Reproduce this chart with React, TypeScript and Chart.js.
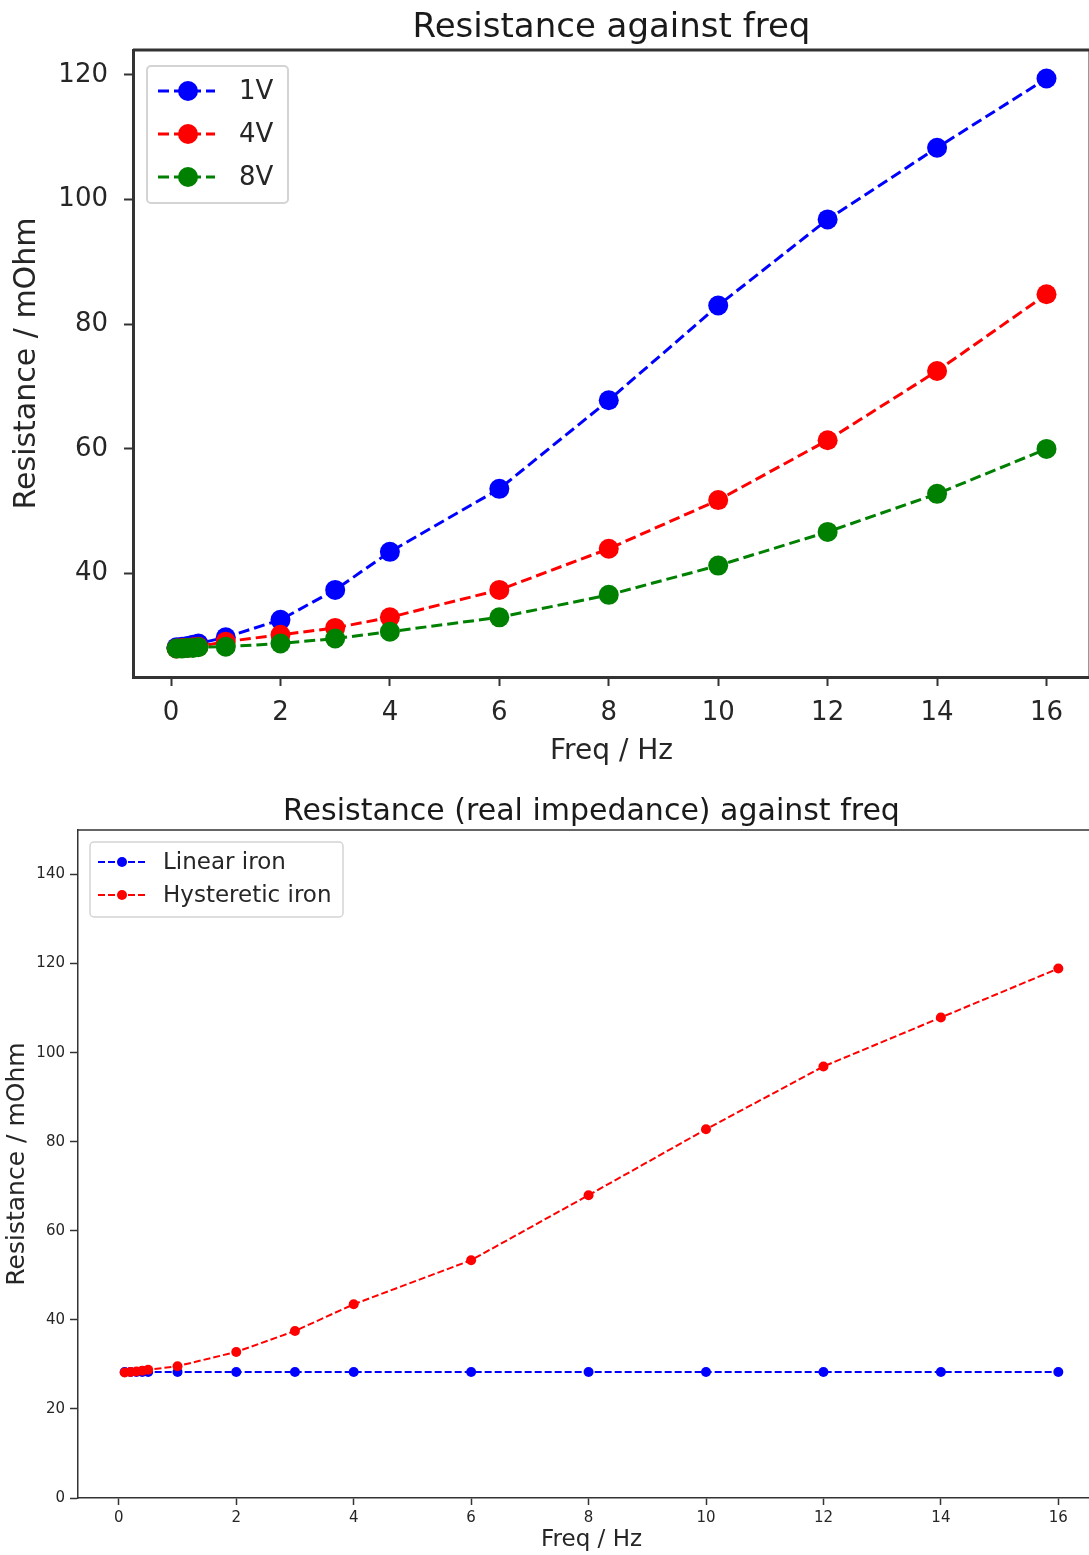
import { useEffect, useRef } from "react";
import { Chart, registerables } from "chart.js";

Chart.register(...registerables);

// Measurement frequencies (Hz)
const freqs = [0.1, 0.2, 0.3, 0.4, 0.5, 1, 2, 3, 4, 6, 8, 10, 12, 14, 16];

// Resistance (mOhm) at three drive voltages
const r1V = [28.2, 28.3, 28.4, 28.6, 28.8, 29.8, 32.6, 37.4, 43.5, 53.6, 67.8, 83.0, 96.8, 108.3, 119.4];
const r4V = [28.0, 28.1, 28.1, 28.2, 28.3, 29.1, 30.2, 31.3, 33.0, 37.4, 44.0, 51.8, 61.4, 72.5, 84.8];
const r8V = [28.0, 28.0, 28.1, 28.1, 28.2, 28.3, 28.8, 29.6, 30.7, 33.0, 36.6, 41.3, 46.7, 52.8, 60.0];

// Real part of impedance (mOhm) for the two iron models
const linearIron = [28.3, 28.3, 28.3, 28.3, 28.3, 28.3, 28.3, 28.3, 28.3, 28.3, 28.3, 28.3, 28.3, 28.3, 28.3];
const hystereticIron = [28.2, 28.3, 28.4, 28.6, 28.8, 29.6, 32.8, 37.5, 43.5, 53.4, 68.0, 82.8, 96.9, 107.9, 118.9];

// Tick labels
const xTicks = [0, 2, 4, 6, 8, 10, 12, 14, 16];
const topYTicks = [40, 60, 80, 100, 120];
const bottomYTicks = [0, 20, 40, 60, 80, 100, 120, 140];

const FONT = "'DejaVu Sans', 'Liberation Sans', sans-serif";
const TEXT = "#262626";
const SPINE = "#333333";

const toPoints = (ys: number[]) => freqs.map((x, i) => ({ x, y: ys[i] }));

// Draws title, top/right spines and a matplotlib-like legend box.
const framePlugin = {
  id: "frame",
  afterDraw(chart: any, _args: any, opts: any) {
    const { ctx, chartArea: a } = chart;
    ctx.save();

    // Title
    ctx.font = `${opts.titleSize}px ${FONT}`;
    ctx.fillStyle = "#1a1a1a";
    ctx.textAlign = "center";
    ctx.textBaseline = "alphabetic";
    ctx.fillText(opts.title, (a.left + a.right) / 2, opts.titleBaseline);

    // Top and right spines
    ctx.strokeStyle = SPINE;
    ctx.lineWidth = opts.spineWidth;
    ctx.setLineDash([]);
    ctx.beginPath();
    ctx.moveTo(a.left, a.top);
    ctx.lineTo(a.right, a.top);
    ctx.lineTo(a.right, a.bottom);
    ctx.stroke();

    // Legend
    const lg = opts.legend;
    const x0 = a.left + lg.dx;
    const y0 = a.top + lg.dy;
    ctx.beginPath();
    ctx.roundRect(x0, y0, lg.w, lg.h, lg.radius);
    ctx.fillStyle = "rgba(255,255,255,0.85)";
    ctx.fill();
    ctx.strokeStyle = "#d4d4d4";
    ctx.lineWidth = lg.borderWidth;
    ctx.stroke();

    chart.data.datasets.forEach((ds: any, i: number) => {
      const cy = y0 + lg.firstY + i * lg.rowGap;
      ctx.strokeStyle = ds.borderColor;
      ctx.lineWidth = ds.borderWidth;
      ctx.setLineDash(ds.borderDash);
      ctx.beginPath();
      ctx.moveTo(x0 + lg.lineX0, cy);
      ctx.lineTo(x0 + lg.lineX1, cy);
      ctx.stroke();
      ctx.setLineDash([]);
      ctx.beginPath();
      ctx.arc(x0 + lg.markerX, cy, ds.pointRadius, 0, Math.PI * 2);
      ctx.fillStyle = ds.pointBackgroundColor;
      ctx.fill();
      ctx.font = `${lg.fontSize}px ${FONT}`;
      ctx.fillStyle = TEXT;
      ctx.textAlign = "left";
      ctx.textBaseline = "middle";
      ctx.fillText(ds.label, x0 + lg.textX, cy + 1);
    });
    ctx.restore();
  },
};

function series(label: string, ys: number[], color: string, big: boolean, order: number) {
  return {
    label,
    data: toPoints(ys),
    borderColor: color,
    backgroundColor: color,
    pointBackgroundColor: color,
    pointBorderColor: color,
    pointBorderWidth: 0,
    pointRadius: big ? 10 : 5,
    pointHoverRadius: big ? 10 : 5,
    borderWidth: big ? 3 : 2,
    borderDash: big ? [11, 5] : [7, 3],
    showLine: true,
    fill: false,
    tension: 0,
    order,
  };
}

function axisX(cfg: any) {
  return {
    type: "linear",
    min: -0.695,
    max: 16.795,
    afterBuildTicks: (s: any) => {
      s.ticks = xTicks.map((v) => ({ value: v }));
    },
    afterFit: (s: any) => {
      s.height = cfg.height;
    },
    grid: {
      display: true,
      drawOnChartArea: false,
      drawTicks: true,
      tickLength: cfg.tickLength,
      tickWidth: cfg.tickWidth,
      tickColor: SPINE,
    },
    border: { display: true, color: SPINE, width: cfg.spine },
    ticks: {
      font: { family: FONT, size: cfg.tickSize },
      color: TEXT,
      padding: cfg.tickPad,
      maxRotation: 0,
      autoSkip: false,
      callback: (v: any) => String(v),
    },
    title: {
      display: true,
      text: "Freq / Hz",
      font: { family: FONT, size: cfg.titleSize },
      color: TEXT,
      padding: { top: 0, bottom: cfg.titlePad },
    },
  };
}

function axisY(cfg: any) {
  return {
    type: "linear",
    min: cfg.min,
    max: cfg.max,
    afterBuildTicks: (s: any) => {
      s.ticks = cfg.ticks.map((v: number) => ({ value: v }));
    },
    afterFit: (s: any) => {
      s.width = cfg.width;
    },
    grid: {
      display: true,
      drawOnChartArea: false,
      drawTicks: true,
      tickLength: cfg.tickLength,
      tickWidth: cfg.tickWidth,
      tickColor: SPINE,
    },
    border: { display: true, color: SPINE, width: cfg.spine },
    ticks: {
      font: { family: FONT, size: cfg.tickSize },
      color: TEXT,
      padding: cfg.tickPad,
      autoSkip: false,
      callback: (v: any) => String(v),
    },
    title: {
      display: true,
      text: "Resistance / mOhm",
      font: { family: FONT, size: cfg.titleSize },
      color: TEXT,
      padding: { top: cfg.titlePad, bottom: 0 },
    },
  };
}

function useChart(ref: any, config: any) {
  useEffect(() => {
    const chart = new Chart(ref.current, config);
    return () => chart.destroy();
  }, []);
}

export default function App() {
  const topRef = useRef<HTMLCanvasElement>(null);
  const bottomRef = useRef<HTMLCanvasElement>(null);

  useChart(topRef, {
    type: "scatter",
    data: {
      datasets: [
        series("1V", r1V, "#0000ff", true, 3),
        series("4V", r4V, "#ff0000", true, 2),
        series("8V", r8V, "#008000", true, 1),
      ],
    },
    plugins: [framePlugin],
    options: {
      responsive: false,
      animation: false,
      layout: { padding: { left: 0, top: 50, right: 9, bottom: 0 } },
      plugins: {
        legend: { display: false },
        tooltip: { enabled: false },
        frame: {
          title: "Resistance against freq",
          titleSize: 34,
          titleBaseline: 37,
          spineWidth: 3,
          legend: {
            dx: 14, dy: 16, w: 141, h: 137, radius: 4, borderWidth: 2,
            firstY: 25, rowGap: 43, lineX0: 11, lineX1: 68, markerX: 41, textX: 92, fontSize: 26,
          },
        },
      },
      scales: {
        x: axisX({ height: 103, tickLength: 9, tickWidth: 2, spine: 3, tickSize: 26, tickPad: 12, titleSize: 28, titlePad: 11 }),
        y: axisY({ min: 23.43, max: 123.97, ticks: topYTicks, width: 133, tickLength: 9, tickWidth: 2, spine: 3, tickSize: 26, tickPad: 16, titleSize: 30, titlePad: 9 }),
      },
    },
  });

  useChart(bottomRef, {
    type: "scatter",
    data: {
      datasets: [
        series("Linear iron", linearIron, "#0000ff", false, 2),
        series("Hysteretic iron", hystereticIron, "#ff0000", false, 1),
      ],
    },
    plugins: [framePlugin],
    options: {
      responsive: false,
      animation: false,
      layout: { padding: { left: 0, top: 50, right: 5, bottom: 0 } },
      plugins: {
        legend: { display: false },
        tooltip: { enabled: false },
        frame: {
          title: "Resistance (real impedance) against freq",
          titleSize: 30,
          titleBaseline: 40,
          spineWidth: 1.5,
          legend: {
            dx: 12, dy: 12, w: 253, h: 75, radius: 4, borderWidth: 1.5,
            firstY: 20, rowGap: 33, lineX0: 8, lineX1: 55, markerX: 32, textX: 73, fontSize: 23,
          },
        },
      },
      scales: {
        x: axisX({ height: 57, tickLength: 7, tickWidth: 1.5, spine: 1.5, tickSize: 15, tickPad: 4, titleSize: 23, titlePad: 1 }),
        y: axisY({ min: 0, max: 150, ticks: bottomYTicks, width: 78, tickLength: 8, tickWidth: 1.5, spine: 1.5, tickSize: 15, tickPad: 5, titleSize: 25, titlePad: 2 }),
      },
    },
  });

  return (
    <div
      style={{
        position: "absolute",
        left: 0,
        top: 0,
        width: 1089,
        height: 1555,
        overflow: "hidden",
        background: "#ffffff",
      }}
    >
      <canvas ref={topRef} width={1100} height={780} style={{ position: "absolute", left: 0, top: 0 }} />
      <canvas ref={bottomRef} width={1110} height={775} style={{ position: "absolute", left: 0, top: 780 }} />
    </div>
  );
}
